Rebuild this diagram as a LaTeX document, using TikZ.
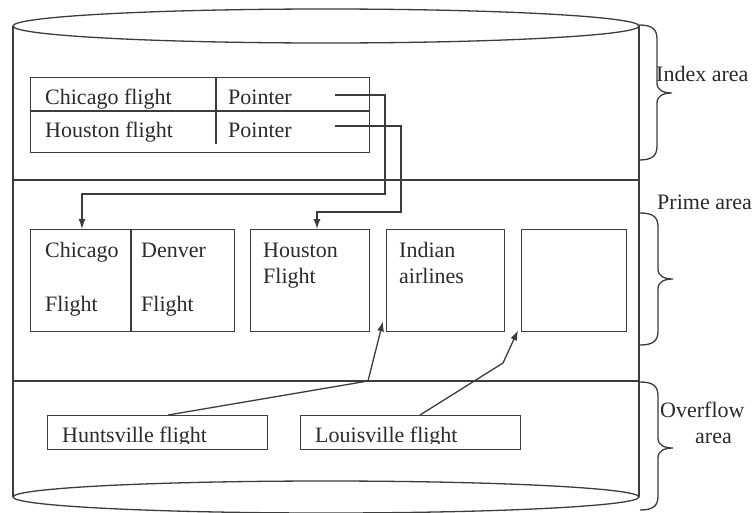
\documentclass[tikz,border=0pt]{standalone}
\usepackage{fontspec}
\setmainfont{Liberation Serif}
\usetikzlibrary{arrows.meta,calc}
\definecolor{ink}{HTML}{3C3C3C}
\definecolor{txt}{HTML}{2A2A2A}
\tikzset{
  ln/.style={draw=ink, line width=1.3pt},
  box/.style={draw=ink, line width=1.3pt, inner sep=0pt, anchor=north west},
  lbl/.style={anchor=base west, inner sep=0pt, text=txt, font=\fontsize{22}{26}\selectfont},
  arr/.style={ln, -{Latex[length=10pt,width=7pt]}}
}
\newcommand\areabrace[4]{%
  \draw[ln] (#1,#2) .. controls (#1+13,#2) and (#1+18,#2+4) .. (#1+18,#2+14)
     -- (#1+18,#4-10) .. controls (#1+18,#4-3) and (#1+24,#4) .. (#1+33,#4)
     .. controls (#1+24,#4) and (#1+18,#4+3) .. (#1+18,#4+10)
     -- (#1+18,#3-14) .. controls (#1+18,#3-4) and (#1+13,#3) .. (#1,#3);}
\begin{document}
\begin{tikzpicture}[x=1pt,y=-1pt]
\useasboundingbox (0,0) rectangle (754,512);
% cylinder
\draw[ln] (326,26) ellipse [x radius=313pt, y radius=17pt];
\draw[ln] (326,497) ellipse [x radius=313pt, y radius=16pt];
\draw[ln] (13,26) -- (13,497);
\draw[ln] (639,26) -- (639,497);
\draw[ln] (13,180) -- (639,180);
\draw[ln] (13,381) -- (639,381);
% braces
\areabrace{639}{25}{160}{93}
\areabrace{640}{213}{345}{279}
\areabrace{640}{382}{510}{448}
\node[lbl] (ia) at (656,81) {Index area};
\node[lbl] (pa) at (657,209) {Prime area};
\node[lbl] (oa1) at (660,417) {Overflow};
\node[lbl] (oa2) at (695,443) {area};
% index table
\node[box, minimum width=339pt, minimum height=75pt] (idx) at (30,77) {};
\draw[ln] (30,111) -- (369,111);
\draw[ln] (216,77) -- (216,144);
\node[lbl] (c1) at (45,104) {Chicago flight};
\node[lbl] (c2) at (228,104) {Pointer};
\node[lbl] (h1) at (45,137) {Houston flight};
\node[lbl] (h2) at (228,137) {Pointer};
% prime boxes
\node[box, minimum width=204pt, minimum height=102pt] (cd) at (30,229) {};
\draw[ln] (131,229) -- (131,331);
\node[box, minimum width=119pt, minimum height=102pt] (hou) at (250,229) {};
\node[box, minimum width=118pt, minimum height=102pt] (ind) at (386,229) {};
\node[box, minimum width=105pt, minimum height=102pt] (emp) at (521,229) {};
\node[lbl] (t1) at (45,257) {Chicago};
\node[lbl] (t2) at (45,311) {Flight};
\node[lbl] (t3) at (141,257) {Denver};
\node[lbl] (t4) at (141,311) {Flight};
\node[lbl] (t5) at (263,257) {Houston};
\node[lbl] (t6) at (263,283) {Flight};
\node[lbl] (t7) at (399,257) {Indian};
\node[lbl] (t8) at (399,283) {airlines};
% overflow boxes
\node[box, minimum width=220pt, minimum height=34pt] (hunt) at (47,415) {};
\node[box, minimum width=220pt, minimum height=34pt] (lou) at (300,415) {};
\begin{scope}
\clip (47,415) rectangle (520,443);
\node[lbl] (t9) at (62,442) {Huntsville flight};
\node[lbl] (t10) at (315,442) {Louisville flight};
\end{scope}
% pointers
\coordinate (p1) at (335,95);
\coordinate (p2) at (335,126);
\draw[arr] (p1) -- (385,95) -- (385,194) -- (82,194) -- ($(cd.north west)+(52,0)$);
\draw[arr] (p2) -- (401,126) -- (401,212) -- (317,212) -- ($(hou.north west)+(67,0)$);
\draw[arr] ($(hunt.north west)+(121,0)$) -- (368,381) -- ($(ind.south west)+(-3,-11)$);
\draw[arr] ($(lou.north west)+(120,0)$) -- (503,363) -- ($(emp.south west)+(-3,-2)$);
\end{tikzpicture}
\end{document}
